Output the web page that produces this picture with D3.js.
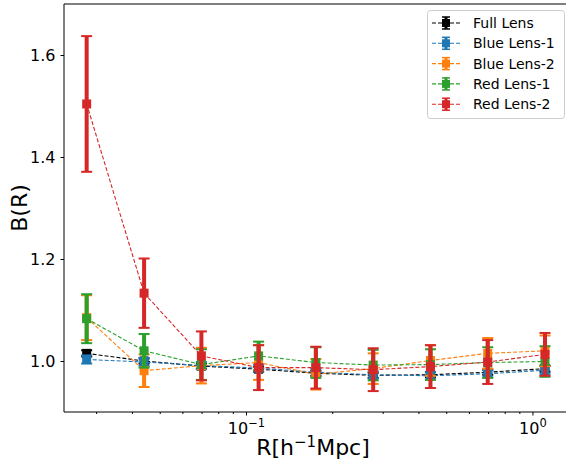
<!DOCTYPE html>
<html>
<head>
<meta charset="utf-8" />
<style>
body { margin:0; background:#fff; }
text { font-family: "DejaVu Sans", sans-serif; fill:#000; }
.domain { display:none; }
.tick line { stroke:#000; }
</style>
</head>
<body>
<svg id="chart" width="566" height="464"></svg>
<script src="https://cdn.jsdelivr.net/npm/d3@7"></script>
<script>
// radial bins
var R = [0.0278, 0.0441, 0.0699, 0.1107, 0.1754, 0.278, 0.4405, 0.698, 1.106];

var names = ["Full Lens", "Blue Lens-1", "Blue Lens-2", "Red Lens-1", "Red Lens-2"];
var colors = ["#000000", "#1f77b4", "#ff7f0e", "#2ca02c", "#d62728"];

var fullLens = [1.015, 1.000, 0.990, 0.984, 0.976, 0.972, 0.973, 0.978, 0.985];
var fullLensErr = [0.006, 0.005, 0.005, 0.005, 0.005, 0.005, 0.005, 0.005, 0.006];
var blue1 = [1.003, 0.998, 0.991, 0.986, 0.978, 0.973, 0.971, 0.975, 0.982];
var blue1Err = [0.008, 0.008, 0.007, 0.007, 0.007, 0.007, 0.007, 0.007, 0.008];
var blue2 = [1.085, 0.981, 0.991, 0.997, 0.974, 0.985, 1.001, 1.015, 1.020];
var blue2Err = [0.044, 0.032, 0.035, 0.034, 0.030, 0.030, 0.030, 0.030, 0.030];
var red1 = [1.083, 1.020, 0.993, 1.010, 0.997, 0.992, 0.993, 0.997, 0.999];
var red1Err = [0.048, 0.033, 0.030, 0.028, 0.030, 0.030, 0.030, 0.030, 0.030];
var red2 = [1.504, 1.133, 1.010, 0.987, 0.987, 0.983, 0.989, 0.998, 1.013];
var red2Err = [0.133, 0.068, 0.048, 0.044, 0.041, 0.042, 0.042, 0.043, 0.042];

var yTicks = [1.0, 1.2, 1.4, 1.6];
var xMajor = [0.1, 1];
var xMajorLabels = [["10", "\u22121"], ["10", "0"]];

var series = [fullLens, blue1, blue2, red1, red2];
var errs = [fullLensErr, blue1Err, blue2Err, red1Err, red2Err];

var pLeft = 64, pRight = 572, pTop = 4, pBottom = 412;
var svg = d3.select("#chart");

var x = d3.scaleLog().domain([0.02317, 1.374]).range([pLeft, pRight]);
var y = d3.scaleLinear().domain([0.9, 1.7]).range([pBottom, pTop]);

// minor ticks for log axis
var xMinor = [];
[0.01, 0.1, 1].forEach(function(d) {
	for (var k = 2; k <= 9; k++) {
		var v = d * k;
		if (v > x.domain()[0] && v < x.domain()[1]) xMinor.push(v);
	}
});

svg.append("g")
	.attr("transform", "translate(0," + pBottom + ")")
	.call(d3.axisBottom(x).tickValues(xMinor).tickSize(2).tickFormat(""));
var xa = svg.append("g")
	.attr("transform", "translate(0," + pBottom + ")")
	.call(d3.axisBottom(x).tickValues(xMajor).tickSize(3.5).tickFormat(""));
xa.selectAll(".tick").each(function(d, i) {
	var t = d3.select(this).append("text")
		.attr("y", 22)
		.attr("text-anchor", "middle")
		.attr("font-size", "16px");
	t.append("tspan").text(xMajorLabels[i][0]);
	t.append("tspan").attr("dy", -7).attr("font-size", "11.5px").text(xMajorLabels[i][1]);
});

var ya = svg.append("g")
	.attr("transform", "translate(" + pLeft + ",0)")
	.call(d3.axisLeft(y).tickValues(yTicks).tickSize(3.5).tickPadding(5).tickFormat(d3.format(".1f")));
ya.selectAll("text").attr("font-size", "16px");

// spines
svg.append("line").attr("x1", pLeft).attr("x2", pLeft).attr("y1", pTop).attr("y2", pBottom)
	.attr("stroke", "#000").attr("stroke-width", 1);
svg.append("line").attr("x1", pLeft).attr("x2", pRight).attr("y1", pBottom).attr("y2", pBottom)
	.attr("stroke", "#000").attr("stroke-width", 1);
svg.append("line").attr("x1", pLeft).attr("x2", pRight).attr("y1", pTop).attr("y2", pTop)
	.attr("stroke", "#000").attr("stroke-width", 1);

// axis labels
svg.append("text")
	.attr("transform", "translate(27,208) rotate(-90)")
	.attr("text-anchor", "middle")
	.attr("font-size", "22px")
	.text("B(R)");
var xl = svg.append("text")
	.attr("x", 313).attr("y", 455)
	.attr("text-anchor", "middle")
	.attr("font-size", "22px");
xl.append("tspan").text("R[h");
xl.append("tspan").attr("dy", -8).attr("font-size", "15px").text("\u22121");
xl.append("tspan").attr("dy", 8).text("Mpc]");

var plot = svg.append("g");
var line = d3.line().x(function(d, i) { return x(R[i]); }).y(function(d) { return y(d); });

series.forEach(function(s, j) {
	var g = plot.append("g");
	var c = colors[j];
	g.append("path")
		.datum(s)
		.attr("d", line)
		.attr("fill", "none")
		.attr("stroke", c)
		.attr("stroke-width", 1.1)
		.attr("stroke-dasharray", "4,2");
	var eb = g.selectAll(".eb").data(s).enter().append("g");
	eb.append("line")
		.attr("x1", function(d, i) { return x(R[i]); })
		.attr("x2", function(d, i) { return x(R[i]); })
		.attr("y1", function(d, i) { return y(d - errs[j][i]); })
		.attr("y2", function(d, i) { return y(d + errs[j][i]); })
		.attr("stroke", c).attr("stroke-width", 4);
	[-1, 1].forEach(function(sg) {
		eb.append("line")
			.attr("x1", function(d, i) { return x(R[i]) - 5.5; })
			.attr("x2", function(d, i) { return x(R[i]) + 5.5; })
			.attr("y1", function(d, i) { return y(d + sg * errs[j][i]); })
			.attr("y2", function(d, i) { return y(d + sg * errs[j][i]); })
			.attr("stroke", c).attr("stroke-width", 2);
	});
	eb.append("rect")
		.attr("x", function(d, i) { return x(R[i]) - 4.5; })
		.attr("y", function(d) { return y(d) - 4.5; })
		.attr("width", 9).attr("height", 9)
		.attr("fill", c);
});

// legend
var lg = svg.append("g");
lg.append("rect")
	.attr("x", 427.5).attr("y", 10.5).attr("width", 137).attr("height", 108)
	.attr("rx", 3).attr("fill", "#fff").attr("fill-opacity", 0.8)
	.attr("stroke", "#ccc").attr("stroke-width", 1);
names.forEach(function(n, j) {
	var yy = 23 + j * 20.3;
	var c = colors[j];
	lg.append("line").attr("x1", 432).attr("x2", 460).attr("y1", yy).attr("y2", yy)
		.attr("stroke", c).attr("stroke-width", 1.1).attr("stroke-dasharray", "4,2");
	lg.append("line").attr("x1", 446).attr("x2", 446).attr("y1", yy - 6).attr("y2", yy + 6)
		.attr("stroke", c).attr("stroke-width", 3);
	lg.append("line").attr("x1", 442).attr("x2", 450).attr("y1", yy - 6).attr("y2", yy - 6)
		.attr("stroke", c).attr("stroke-width", 1.5);
	lg.append("line").attr("x1", 442).attr("x2", 450).attr("y1", yy + 6).attr("y2", yy + 6)
		.attr("stroke", c).attr("stroke-width", 1.5);
	lg.append("rect").attr("x", 442).attr("y", yy - 4).attr("width", 8).attr("height", 8).attr("fill", c);
	lg.append("text").attr("x", 473).attr("y", yy + 5).attr("font-size", "14px").text(n);
});
</script>
</body>
</html>
